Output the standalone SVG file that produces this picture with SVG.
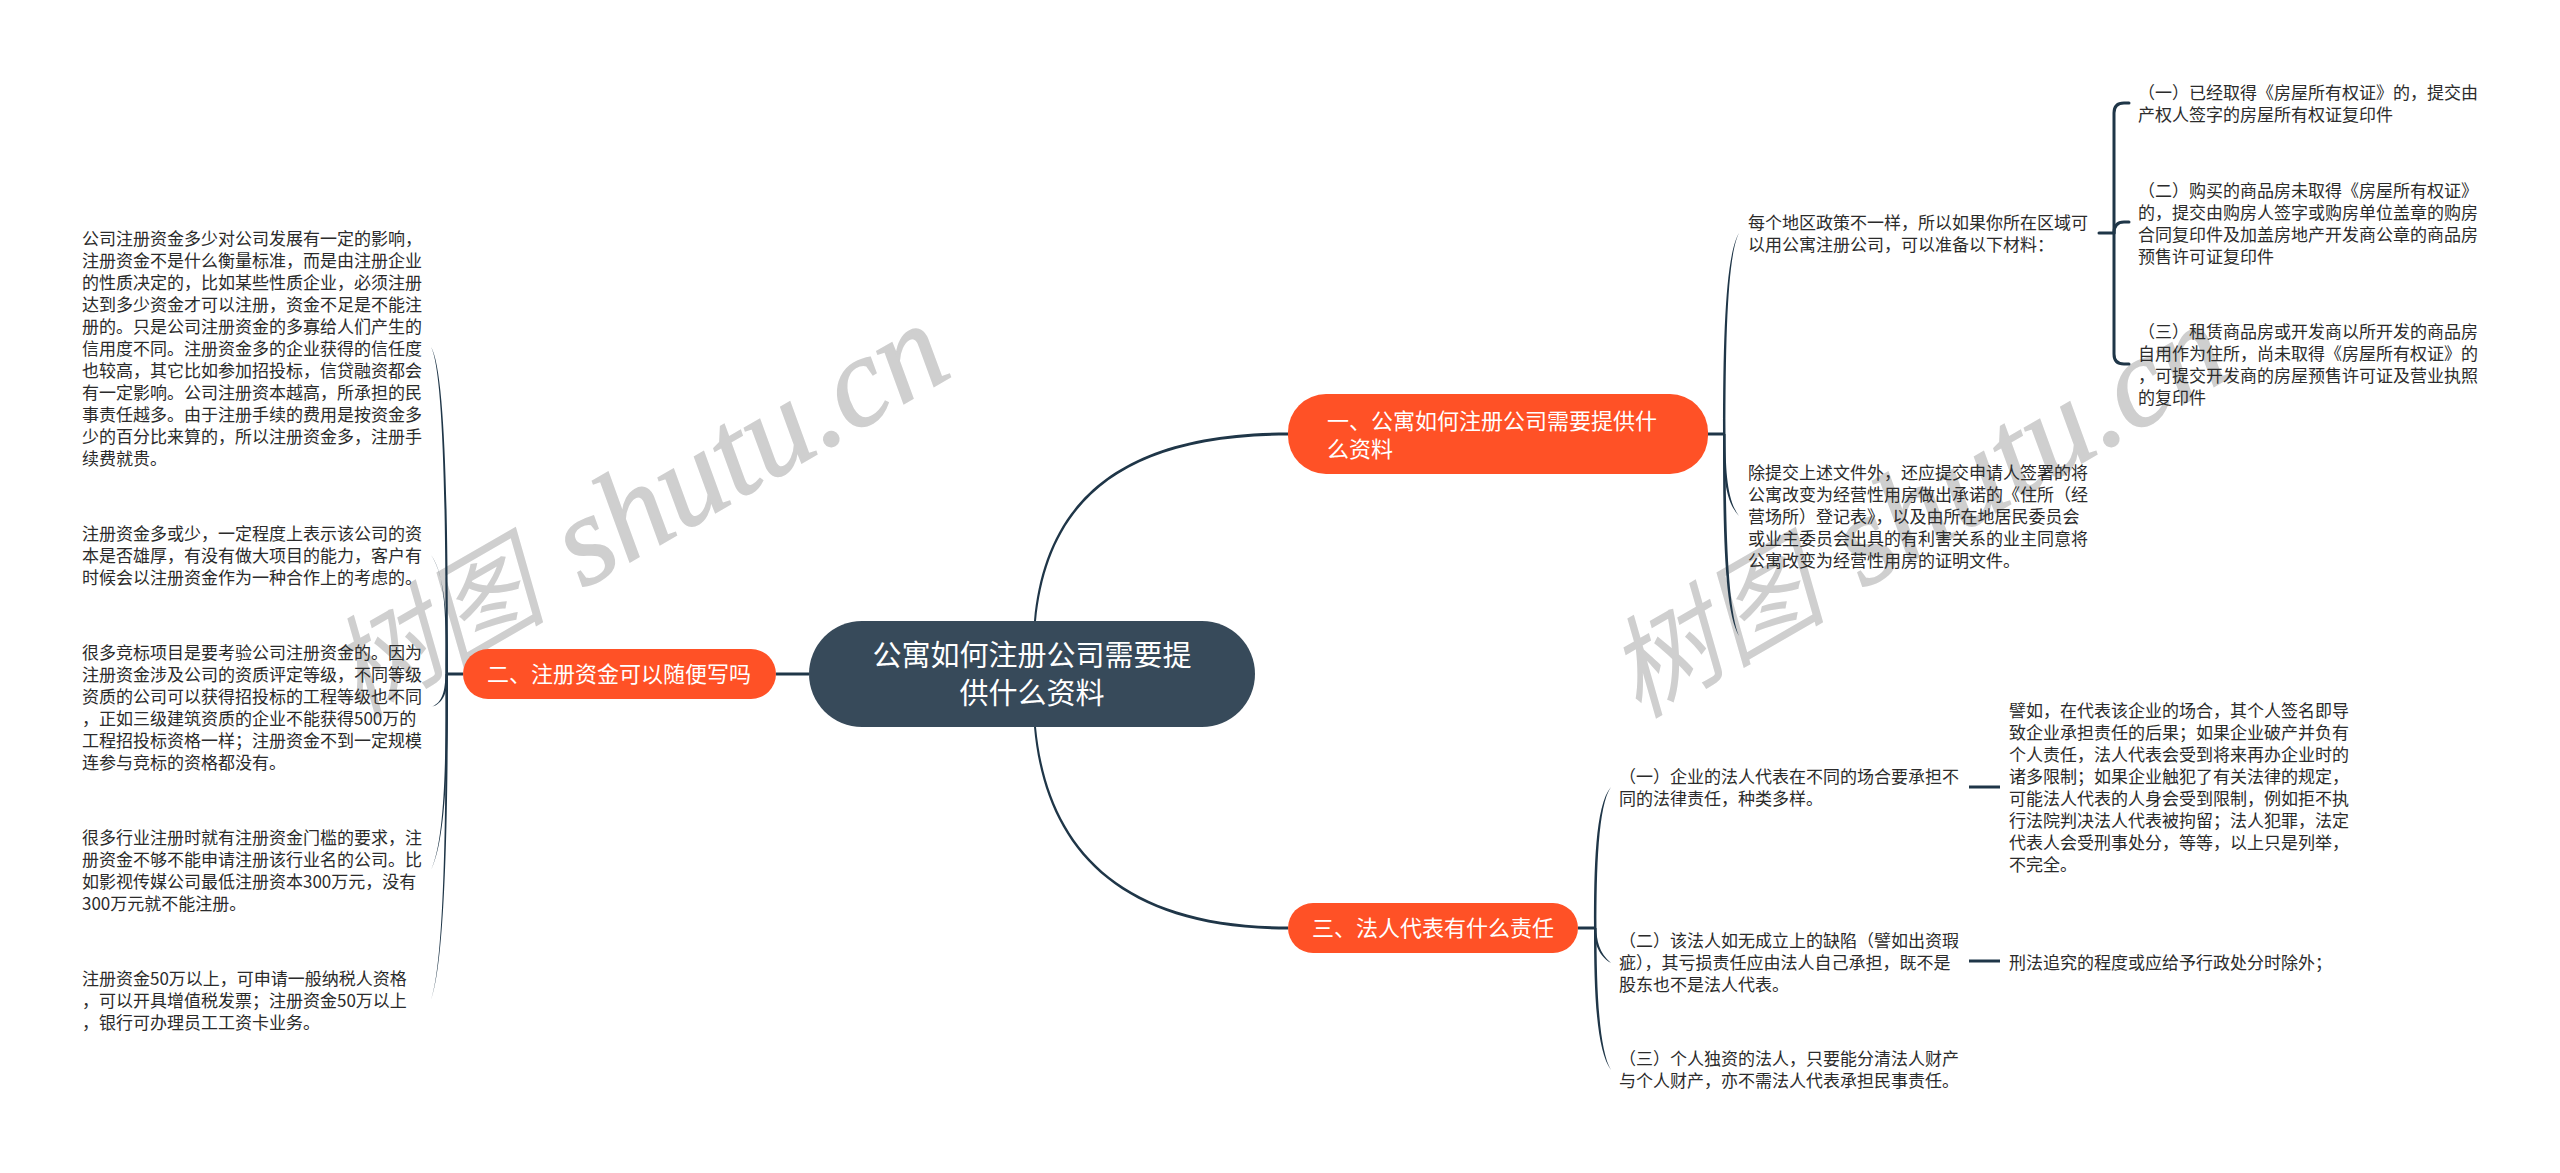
<svg xmlns="http://www.w3.org/2000/svg" width="2560" height="1173" viewBox="0 0 2560 1173">
<style>
text{font-family:"Noto Sans CJK SC","Noto Sans",sans-serif}
.t{font-size:17px;fill:#2b2b2b}
.b{font-size:22px;fill:#fff}
.r{font-size:29px;fill:#fff;text-anchor:middle}
.o{fill:#ff5126}
.c{fill:#1f3648;stroke:none}
.l{fill:none;stroke:#1f3648;stroke-width:3;stroke-linecap:round}
.l2{fill:none;stroke:#1f3648;stroke-width:3}
.w{fill:#cfcfcf;font-size:110px;font-style:italic}
.wl{font-family:"Liberation Serif",serif;font-style:italic;font-size:128px;stroke:#cfcfcf;stroke-width:1.5px}
</style>
<g id="watermarks">
<text class="w" transform="translate(358 719) rotate(-30)">树图 <tspan class="wl" dx="15">shutu.cn</tspan></text>
<text class="w" transform="translate(1638 719) rotate(-30)">树图 <tspan class="wl" dx="15">shutu.cn</tspan></text>
</g>
<g id="connectors">
<path class="c" d="M1034 621C1044 510 1110 432.500 1288 432.500V435.500C1112 435.500 1047 510 1036 621Z"/>
<path class="c" d="M1034 727C1044 840 1110 929.500 1288 929.500V926.500C1112 926.500 1047 840 1036 727Z"/>
<path class="l2" d="M776 674H809"/>
<path class="l2" d="M447 674H463"/>
<path class="c" d="M445.500 674C446 500 443 370 431 347C445 370 448 500 448 674Z"/>
<path class="c" d="M445.500 674C446 620 446 575 431 555C445 575 448 620 448 674Z"/>
<path class="c" d="M445.500 674C445 690 443 703 431 707C444 704 448 690 448 674Z"/>
<path class="c" d="M445.500 674C446 760 445 840 431 870C446 840 448 760 448 674Z"/>
<path class="c" d="M445.500 674C446 800 445 960 431 1000C446 960 448 800 448 674Z"/>
<path class="l2" d="M1708 434H1724"/>
<path class="c" d="M1723 434C1723 330 1726 255 1739 233C1728 255 1725.500 330 1725.500 434Z"/>
<path class="c" d="M1723 434C1723 470 1724 500 1739 516C1727 500 1725.500 470 1725.500 434Z"/>
<path class="c" d="M1723 434C1723 530 1724 610 1739 636C1728 610 1725.500 530 1725.500 434Z"/>
<path class="l2" d="M1578 928H1595"/>
<path class="c" d="M1594 928C1594 870 1595 805 1611 787C1598 805 1596.500 870 1596.500 928Z"/>
<path class="c" d="M1594 928C1594 940 1597 955 1611 963C1599 953 1596.500 940 1596.500 928Z"/>
<path class="c" d="M1594 928C1594 990 1596 1050 1611 1070C1599 1050 1596.500 990 1596.500 928Z"/>
<path class="l" d="M2099 233H2114"/>
<path class="l" d="M2129 103H2124Q2114 103 2114 113V354Q2114 364 2124 364H2129"/>
<path class="l" d="M2114 233Q2114 222 2124 222H2129"/>
<path class="l2" d="M1969 787H2000"/>
<path class="l2" d="M1969 961H2000"/>
</g>
<g id="root">
<rect x="809" y="621" width="446" height="106" rx="53" fill="#374a5a"/>
<text class="r"><tspan x="1032" y="666">公寓如何注册公司需要提</tspan><tspan x="1032" y="704">供什么资料</tspan></text>
</g>
<g id="node1">
<rect class="o" x="1288" y="394" width="420" height="80" rx="38"/>
<text class="b"><tspan x="1327" y="429">一、公寓如何注册公司需要提供什</tspan><tspan x="1327" y="457">么资料</tspan></text>
</g>
<g id="node2">
<rect class="o" x="463" y="649" width="313" height="50" rx="25"/>
<text class="b" x="487" y="682">二、注册资金可以随便写吗</text>
</g>
<g id="node3">
<rect class="o" x="1288" y="903" width="290" height="50" rx="25"/>
<text class="b" x="1312" y="936">三、法人代表有什么责任</text>
</g>
<g id="left1"><text class="t"><tspan x="82" y="245">公司注册资金多少对公司发展有一定的影响，</tspan><tspan x="82" y="267">注册资金不是什么衡量标准，而是由注册企业</tspan><tspan x="82" y="289">的性质决定的，比如某些性质企业，必须注册</tspan><tspan x="82" y="311">达到多少资金才可以注册，资金不足是不能注</tspan><tspan x="82" y="333">册的。只是公司注册资金的多寡给人们产生的</tspan><tspan x="82" y="355">信用度不同。注册资金多的企业获得的信任度</tspan><tspan x="82" y="377">也较高，其它比如参加招投标，信贷融资都会</tspan><tspan x="82" y="399">有一定影响。公司注册资本越高，所承担的民</tspan><tspan x="82" y="421">事责任越多。由于注册手续的费用是按资金多</tspan><tspan x="82" y="443">少的百分比来算的，所以注册资金多，注册手</tspan><tspan x="82" y="465">续费就贵。</tspan></text></g>
<g id="left2"><text class="t"><tspan x="82" y="540">注册资金多或少，一定程度上表示该公司的资</tspan><tspan x="82" y="562">本是否雄厚，有没有做大项目的能力，客户有</tspan><tspan x="82" y="584">时候会以注册资金作为一种合作上的考虑的。</tspan></text></g>
<g id="left3"><text class="t"><tspan x="82" y="659">很多竞标项目是要考验公司注册资金的。因为</tspan><tspan x="82" y="681">注册资金涉及公司的资质评定等级，不同等级</tspan><tspan x="82" y="703">资质的公司可以获得招投标的工程等级也不同</tspan><tspan x="82" y="725">，正如三级建筑资质的企业不能获得500万的</tspan><tspan x="82" y="747">工程招投标资格一样；注册资金不到一定规模</tspan><tspan x="82" y="769">连参与竞标的资格都没有。</tspan></text></g>
<g id="left4"><text class="t"><tspan x="82" y="844">很多行业注册时就有注册资金门槛的要求，注</tspan><tspan x="82" y="866">册资金不够不能申请注册该行业名的公司。比</tspan><tspan x="82" y="888">如影视传媒公司最低注册资本300万元，没有</tspan><tspan x="82" y="910">300万元就不能注册。</tspan></text></g>
<g id="left5"><text class="t"><tspan x="82" y="985">注册资金50万以上，可申请一般纳税人资格</tspan><tspan x="82" y="1007">，可以开具增值税发票；注册资金50万以上</tspan><tspan x="82" y="1029">，银行可办理员工工资卡业务。</tspan></text></g>
<g id="r1"><text class="t"><tspan x="1748" y="229">每个地区政策不一样，所以如果你所在区域可</tspan><tspan x="1748" y="251">以用公寓注册公司，可以准备以下材料：</tspan></text></g>
<g id="r2"><text class="t"><tspan x="1748" y="479">除提交上述文件外，还应提交申请人签署的将</tspan><tspan x="1748" y="501">公寓改变为经营性用房做出承诺的《住所（经</tspan><tspan x="1748" y="523">营场所）登记表》，以及由所在地居民委员会</tspan><tspan x="1748" y="545">或业主委员会出具的有利害关系的业主同意将</tspan><tspan x="1748" y="567">公寓改变为经营性用房的证明文件。</tspan></text></g>
<g id="r11"><text class="t"><tspan x="2138" y="99">（一）已经取得《房屋所有权证》的，提交由</tspan><tspan x="2138" y="121">产权人签字的房屋所有权证复印件</tspan></text></g>
<g id="r12"><text class="t"><tspan x="2138" y="197">（二）购买的商品房未取得《房屋所有权证》</tspan><tspan x="2138" y="219">的，提交由购房人签字或购房单位盖章的购房</tspan><tspan x="2138" y="241">合同复印件及加盖房地产开发商公章的商品房</tspan><tspan x="2138" y="263">预售许可证复印件</tspan></text></g>
<g id="r13"><text class="t"><tspan x="2138" y="338">（三）租赁商品房或开发商以所开发的商品房</tspan><tspan x="2138" y="360">自用作为住所，尚未取得《房屋所有权证》的</tspan><tspan x="2138" y="382">，可提交开发商的房屋预售许可证及营业执照</tspan><tspan x="2138" y="404">的复印件</tspan></text></g>
<g id="b1"><text class="t"><tspan x="1619" y="783">（一）企业的法人代表在不同的场合要承担不</tspan><tspan x="1619" y="805">同的法律责任，种类多样。</tspan></text></g>
<g id="b2"><text class="t"><tspan x="1619" y="947">（二）该法人如无成立上的缺陷（譬如出资瑕</tspan><tspan x="1619" y="969">疵），其亏损责任应由法人自己承担，既不是</tspan><tspan x="1619" y="991">股东也不是法人代表。</tspan></text></g>
<g id="b3"><text class="t"><tspan x="1619" y="1065">（三）个人独资的法人，只要能分清法人财产</tspan><tspan x="1619" y="1087">与个人财产，亦不需法人代表承担民事责任。</tspan></text></g>
<g id="b11"><text class="t"><tspan x="2009" y="717">譬如，在代表该企业的场合，其个人签名即导</tspan><tspan x="2009" y="739">致企业承担责任的后果；如果企业破产并负有</tspan><tspan x="2009" y="761">个人责任，法人代表会受到将来再办企业时的</tspan><tspan x="2009" y="783">诸多限制；如果企业触犯了有关法律的规定，</tspan><tspan x="2009" y="805">可能法人代表的人身会受到限制，例如拒不执</tspan><tspan x="2009" y="827">行法院判决法人代表被拘留；法人犯罪，法定</tspan><tspan x="2009" y="849">代表人会受刑事处分，等等，以上只是列举，</tspan><tspan x="2009" y="871">不完全。</tspan></text></g>
<g id="b21"><text class="t" x="2009" y="969">刑法追究的程度或应给予行政处分时除外；</text></g>
</svg>
